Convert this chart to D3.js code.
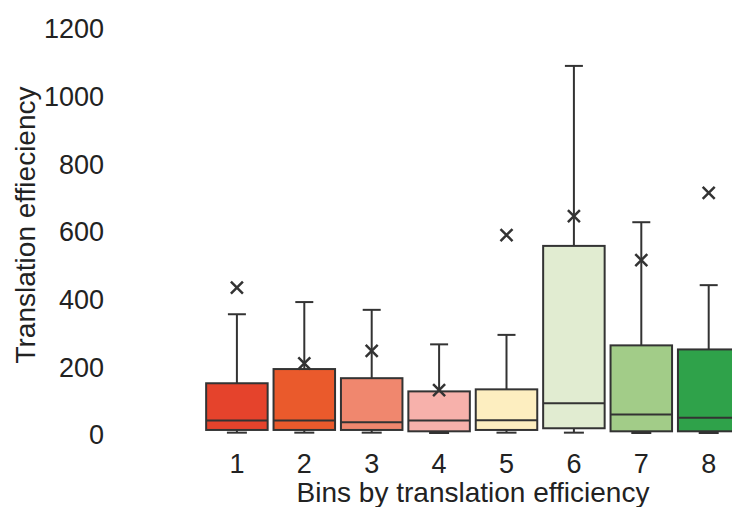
<!DOCTYPE html>
<html>
<head>
<meta charset="utf-8">
<script src="https://cdn.jsdelivr.net/npm/d3@7"></script>
<style>
  body { margin: 0; background: #fff; }
  svg { display: block; font-family: "Liberation Sans", Arial, sans-serif; }
  .axis text { fill: #222; font-size: 27px; }
  .title { fill: #222; font-size: 28px; }
  .box { stroke: #333; stroke-width: 2; }
  .wh { stroke: #333; stroke-width: 2; }
  .mean { stroke: #333; stroke-width: 2.5; }
</style>
</head>
<body>
<div id="chart"></div>
<script>
/* box plot of translation efficiency per bin */
const BINS     = ["1","2","3","4","5","6","7","8"];
const WHISK_LO = [1, 1, 1, 0, 1, 1, 0, 0];
const Q1       = [9, 9, 9, 5, 9, 14, 5, 5];
const MEDIAN   = [37, 37, 32, 37, 38, 88, 55, 45];
const Q3       = [147, 189, 162, 123, 129, 553, 259, 247];
const WHISK_HI = [351, 387, 364, 262, 290, 1085, 623, 437];
const MEAN     = [430, 206, 243, 127, 585, 641, 511, 710];
const COLORS   = ["#e5432c","#ea5a2c","#f0876e","#f7b1ab","#fdeec0","#e1ecd1","#a2cc88","#2fa24a"];
const Y_TICKS  = [0, 200, 400, 600, 800, 1000, 1200];

const W = 732, H = 507;
const rows = BINS.map((b, i) => ({
  bin: b, lo: WHISK_LO[i], q1: Q1[i], med: MEDIAN[i], q3: Q3[i],
  hi: WHISK_HI[i], mean: MEAN[i], color: COLORS[i]
}));

const x = d3.scaleBand().domain(BINS).range([203.2, 742.4])
  .paddingInner(0.0875).paddingOuter(0.04375);
const y = d3.scaleLinear().domain([0, 1200]).range([433, 27]);

const svg = d3.select("#chart").append("svg").attr("width", W).attr("height", H);

// axes: labels only, no lines
const gy = svg.append("g").attr("class", "axis").attr("transform", "translate(104,0)")
  .call(d3.axisLeft(y).tickValues(Y_TICKS).tickFormat(d3.format("d")).tickSize(0).tickPadding(0));
gy.select(".domain").remove();
gy.selectAll("text").attr("dy", "0.4em");

const gx = svg.append("g").attr("class", "axis").attr("transform", "translate(0,473)")
  .call(d3.axisBottom(x).tickSize(0).tickPadding(0));
gx.select(".domain").remove();
gx.selectAll("text").attr("y", 0).attr("dy", "0");

svg.append("text").attr("class", "title").attr("x", 473).attr("y", 502)
  .attr("text-anchor", "middle").text("Bins by translation efficiency");
svg.append("text").attr("class", "title").attr("transform", "translate(35,225) rotate(-90)")
  .attr("text-anchor", "middle").text("Translation effieciency");

const bw = x.bandwidth(), cap = 9;
const g = svg.selectAll("g.bin").data(rows).enter().append("g").attr("class", "bin")
  .attr("transform", d => `translate(${x(d.bin) + bw / 2},0)`);

// whiskers
g.append("line").attr("class", "wh").attr("x1", 0).attr("x2", 0)
  .attr("y1", d => y(d.q3)).attr("y2", d => y(d.hi));
g.append("line").attr("class", "wh").attr("x1", -cap).attr("x2", cap)
  .attr("y1", d => y(d.hi)).attr("y2", d => y(d.hi));
g.append("line").attr("class", "wh").attr("x1", 0).attr("x2", 0)
  .attr("y1", d => y(d.q1)).attr("y2", d => y(d.lo));
g.append("line").attr("class", "wh").attr("x1", -cap - 1).attr("x2", cap + 1)
  .attr("y1", d => y(d.lo)).attr("y2", d => y(d.lo));

// box + median
g.append("rect").attr("class", "box").attr("x", -bw / 2).attr("width", bw)
  .attr("y", d => y(d.q3)).attr("height", d => y(d.q1) - y(d.q3))
  .attr("fill", d => d.color);
g.append("line").attr("class", "wh").attr("x1", -bw / 2).attr("x2", bw / 2)
  .attr("y1", d => y(d.med)).attr("y2", d => y(d.med));

// mean marker
const m = 6;
g.append("path").attr("class", "mean").attr("fill", "none")
  .attr("d", d => `M${-m},${y(d.mean) - m}L${m},${y(d.mean) + m}M${-m},${y(d.mean) + m}L${m},${y(d.mean) - m}`);
</script>
</body>
</html>
